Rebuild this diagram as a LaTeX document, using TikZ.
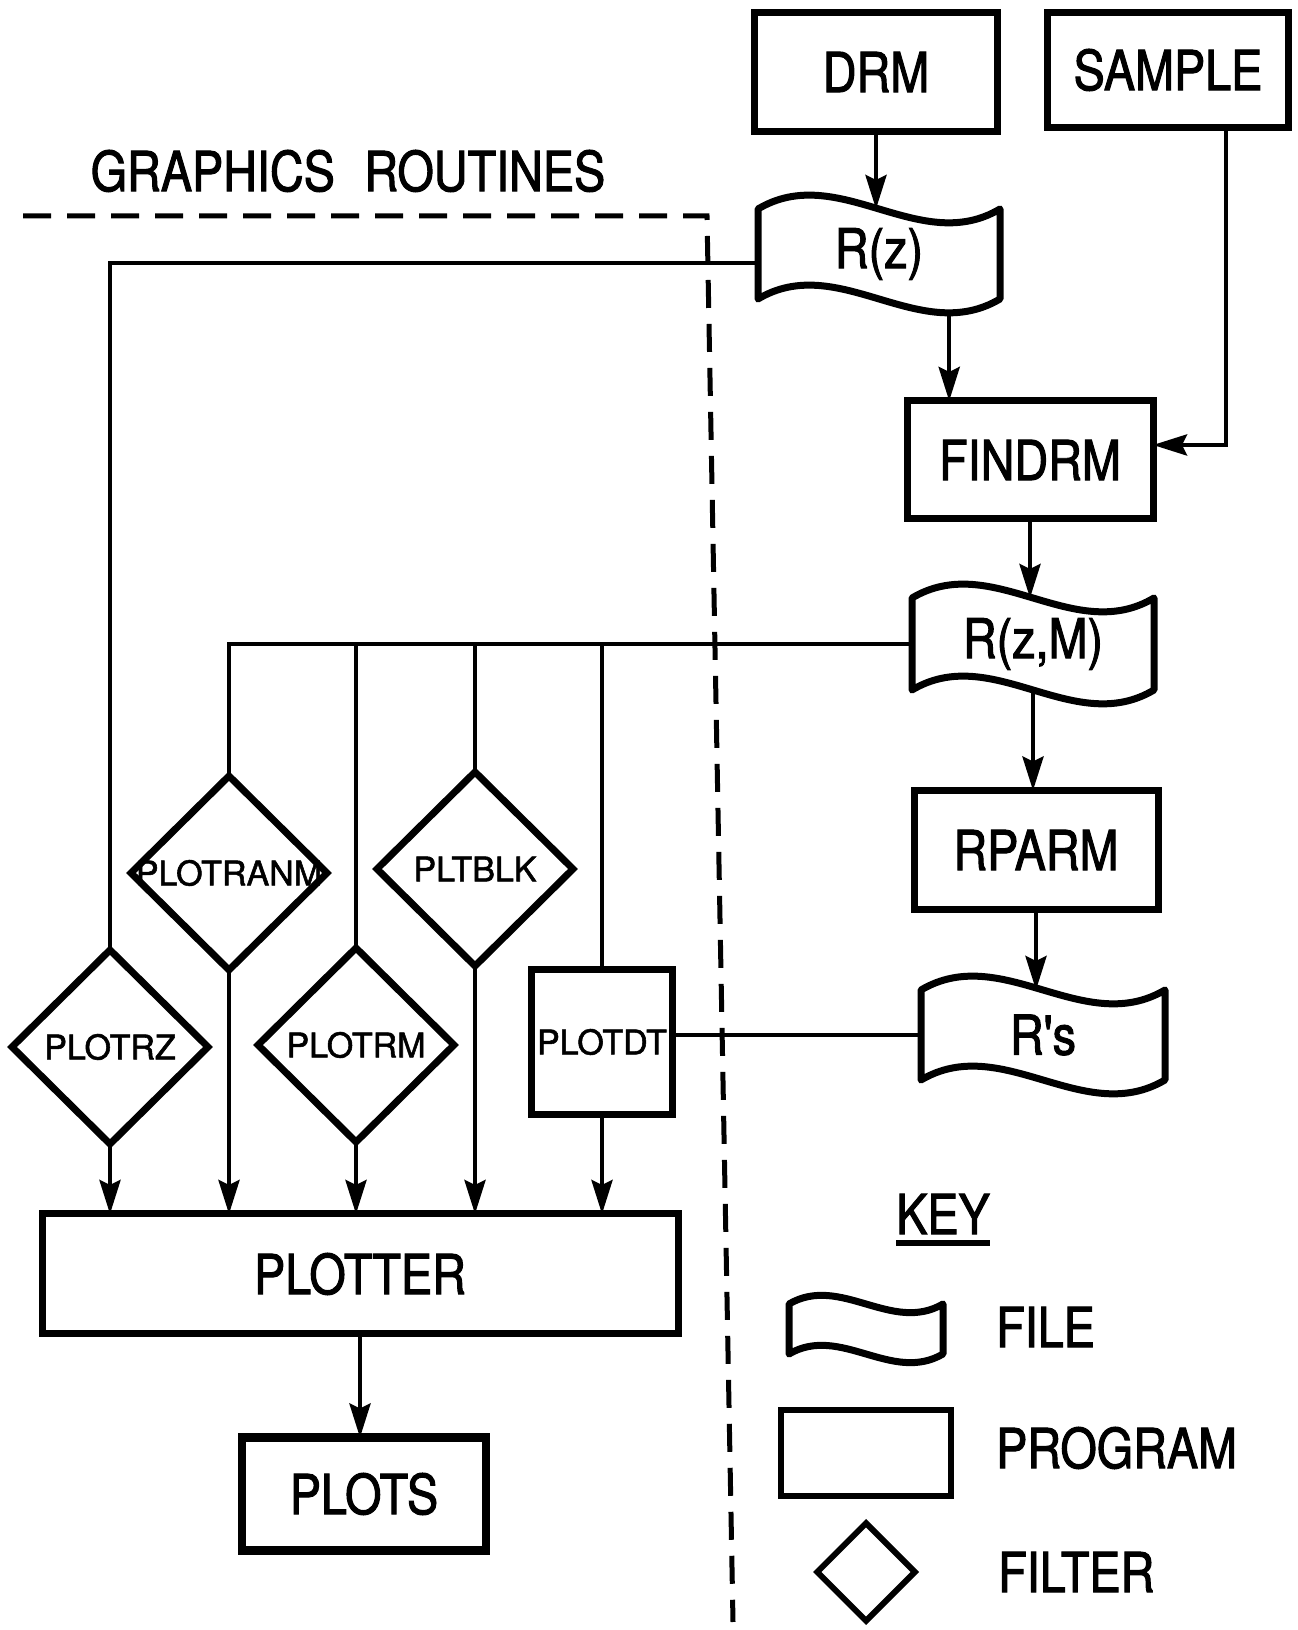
\documentclass[tikz,border=0pt]{standalone}
\usepackage{fontspec}
\newfontfamily\bigfont[FakeStretch=0.85, FakeBold=1.8]{TeX Gyre Heros}
\newfontfamily\smallfont[FakeBold=1.6]{TeX Gyre Heros}
\newcommand\bigtext{\bigfont\fontsize{55}{62}\selectfont}
\newcommand\smalltext{\smallfont\fontsize{34}{38}\selectfont}
\usetikzlibrary{
	shapes.geometric,           % For diamond filters
	arrows.meta,                % For Stealth arrows
	positioning,
	calc                        % For points on the wavy file outlines
}
\tikzset{
	program/.style={
		draw,
		line width=7pt,
		inner sep=0pt,
		outer sep=0pt,
		minimum width=244pt,
		minimum height=118pt,
		font=\bigtext
	},
	file/.style={
		inner sep=0pt,
		outer sep=0pt,
		minimum width=244pt,
		minimum height=90pt,
		font=\bigtext
	},
	filter/.style={
		draw,
		diamond,
		line width=7pt,
		inner sep=0pt,
		outer sep=0pt,
		minimum width=196pt,
		minimum height=194pt,
		label={[font=\smalltext]center:#1}
	},
	fileline/.style={line width=7pt, line join=round},
	link/.style={line width=4.5pt},
	arrow/.style={
		-{Stealth[length=34pt, width=21pt, inset=5pt]},
		line width=4.5pt
	},
	boundary/.style={line width=5pt, dash pattern=on 28pt off 16pt},
	keytext/.style={inner sep=0pt, font=\bigtext}
}
% wavy outline of a file node: #1 = wave depth, #2 = node name
\newcommand\filewave[2][48]{%
	\draw[fileline] (#2.north west)
		.. controls ($(#2.north west)!0.333!(#2.north east)+(0,#1)$)
		and ($(#2.north west)!0.667!(#2.north east)+(0,-#1)$) .. (#2.north east)
		-- (#2.south east)
		.. controls ($(#2.south west)!0.667!(#2.south east)+(0,-#1)$)
		and ($(#2.south west)!0.333!(#2.south east)+(0,#1)$) .. (#2.south west)
		-- cycle;}

\begin{document}
\begin{tikzpicture}[x=1pt, y=1pt, >=Stealth]
		\path[fill=white, use as bounding box] (0,0) rectangle (1298,1630);

		% Right column: data preparation
		\node [program, minimum width=243pt, minimum height=119pt] (drm) at (876,1558) {DRM};
		\node [program, minimum width=241pt, minimum height=115pt] (sample) at (1168,1560) {SAMPLE};
		\node [file, minimum width=242pt] (rz) at (879,1376) {R(z)};
		\node [program, minimum width=246pt, minimum height=118pt] (findrm) at (1030,1170) {FINDRM};
		\node [file, minimum width=242pt, minimum height=92pt] (rzm) at (1033,986) {R(z,M)};
		\node [program, minimum width=244pt, minimum height=119pt] (rparm) at (1036,780) {RPARM};
		\node [file, minimum width=244pt] (rs) at (1043,595) {R's};
		\filewave{rz}
		\filewave{rzm}
		\filewave{rs}

		% Left part: graphics routines
		\node [keytext] (graphics) at (348,1459) {GRAPHICS\hspace{0.3em} ROUTINES};
		\draw [boundary] (23,1414) -- (707,1414) -- (733,8);

		\node [filter=PLOTRANM] (plotranm) at (229,757) {};
		\node [filter=PLTBLK] (pltblk) at (475,761) {};
		\node [filter=PLOTRZ] (plotrz) at (110,583) {};
		\node [filter=PLOTRM] (plotrm) at (356,585) {};
		\node [program, minimum width=141pt, minimum height=145pt, font=\smalltext] (plotdt) at (602,588) {PLOTDT};
		\node [program, minimum width=636pt, minimum height=120pt] (plotter) at (360,356) {PLOTTER};
		\node [program, line width=8.5pt, minimum width=244pt, minimum height=113pt] (plots) at (364,136) {PLOTS};

		% Key
		\node [keytext] (key) at (943,416) {KEY};
		\draw [line width=6pt] ([yshift=-9pt]key.base west) -- ([yshift=-9pt]key.base east);
		\node [file, minimum width=154pt, minimum height=50pt] (keyfile) at (866,301) {};
		\filewave[30]{keyfile}
		\node [program, line width=6pt, minimum width=170pt, minimum height=86pt] (keyprog) at (866,177) {};
		\node [draw, diamond, line width=6pt, inner sep=0pt, minimum width=100pt, minimum height=100pt] (keyfilt) at (866,58) {};
		\node [keytext, anchor=west] (filetxt) at (996,303) {FILE};
		\node [keytext, anchor=west] (progtxt) at (996,182) {PROGRAM};
		\node [keytext, anchor=west] (filttxt) at (998,58) {FILTER};

		% Edges & Connections
		\coordinate (rzout) at ($(rz.south west)!0.79!(rz.south east)+(0,-14)$);
		\draw [arrow] (drm.south) -- (drm.south |- rz.north);
		\draw [arrow] (rzout) -- (rzout |- findrm.north);
		\draw [arrow] ([xshift=58pt]sample.south) |- ([yshift=15pt]findrm.east);
		\draw [arrow] (findrm.south) -- (findrm.south |- rzm.north);
		\draw [arrow] (rzm.south) -- (rzm.south |- rparm.north);
		\draw [arrow] (rparm.south) -- (rparm.south |- rs.north);

		% Files feeding the graphics routines
		\draw [link] ([yshift=-9pt]rz.west) -| (plotrz.north);
		\draw [link] (rzm.west) -| (plotranm.north);
		\foreach \n in {plotrm, pltblk, plotdt}
			\draw [link] (\n.north |- rzm.west) -- (\n.north);
		\draw [link] (rs.west) -- (rs.west -| plotdt.east);

		% Everything goes to the plotter
		\foreach \n in {plotrz, plotranm, plotrm, pltblk, plotdt}
			\draw [arrow] (\n.south) -- (\n.south |- plotter.north);
		\draw [arrow] (plotter.south) -- (plotter.south |- plots.north);
	\end{tikzpicture}
\end{document}
